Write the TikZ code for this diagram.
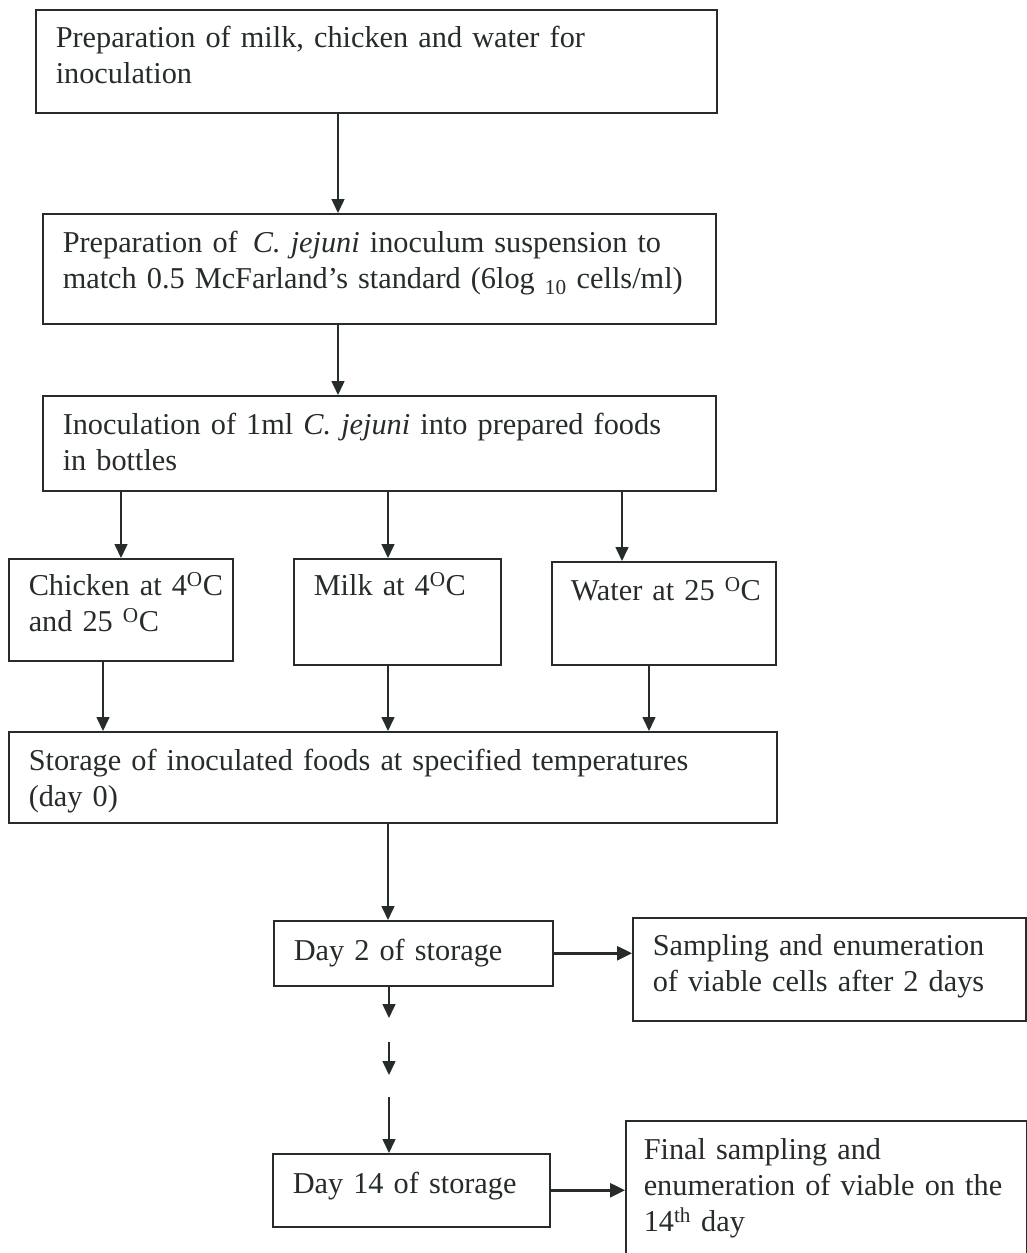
\documentclass[tikz,border=0pt]{standalone}
\usepackage{fontspec}
\setmainfont{Liberation Serif}
\usetikzlibrary{arrows.meta}
\definecolor{ink}{HTML}{262B2B}

\begin{document}
\begin{tikzpicture}[
    x=1pt, y=-1pt,
    box/.style={draw=ink, line width=1.5pt, anchor=north west, align=left, inner xsep=20pt, inner ysep=0pt,
        text height=39pt, text=ink, font=\fontsize{30.3}{36}\selectfont},
    arr/.style={draw=ink, line width=1.5pt, -{Triangle[length=14pt,width=13pt]}},
    side/.style={arr, line width=2.6pt, -{Triangle[length=15pt,width=14pt]}}
]

\useasboundingbox (0,0) rectangle (1027,1253);

% main column
\node[box, text width=641pt, text height=38pt, text depth=65pt] (prep) at (35,9)
    {Preparation of milk, chicken and water for\\inoculation};
\node[box, text width=633pt, text depth=71pt] (susp) at (42,213)
    {Preparation of \,\textit{C. jejuni} inoculum suspension to\\match~0.5~McFarland's~standard~(6log~\textsubscript{10}~cells/ml)};
\node[box, text width=633pt, text depth=56pt] (inoc) at (42,395)
    {Inoculation of 1ml \textit{C. jejuni} into prepared foods\\in bottles};

% foods
\node[box, text width=184pt, text height=37pt, text depth=65pt] (chick) at (8,558)
    {Chicken~at~4\textsuperscript{O}C\\and~25~\textsuperscript{O}C};
\node[box, text width=167pt, text height=37pt, text depth=69pt] (milk) at (293,558)
    {Milk~at~4\textsuperscript{O}C};
\node[box, inner xsep=19pt, text width=186pt, text depth=64pt] (water) at (551,561)
    {Water~at~25~\textsuperscript{O}C};

\node[box, text width=728pt, text depth=52pt] (store) at (8,731)
    {Storage of inoculated foods at specified temperatures\\(day 0)};

% sampling days
\node[box, text width=239pt, text height=40pt, text depth=25pt] (day2) at (273,920)
    {Day 2 of storage};
\node[box, text width=353pt, text height=38pt, text depth=65pt] (samp) at (632,917)
    {Sampling and enumeration\\of viable cells after 2 days};
\node[box, text width=237pt, text height=40pt, text depth=33pt] (day14) at (272,1153)
    {Day 14 of storage};
\node[box, inner xsep=18pt, text width=365pt, text depth=103pt] (final) at (625,1120)
    {Final sampling and\\enumeration~of~viable~on~the\\14\textsuperscript{th} day};

% arrow columns
\coordinate (m1) at (338,0);
\coordinate (m2) at (388,0);
\coordinate (m3) at (389,0);
\coordinate (c1) at (121,0);
\coordinate (c2) at (103,0);
\coordinate (w1) at (622,0);
\coordinate (w2) at (649,0);
\coordinate (g1) at (389,1018);
\coordinate (g2) at (389,1042);
\coordinate (g3) at (389,1075);
\coordinate (g4) at (389,1097);

\draw[arr] (prep.south -| m1) -- (susp.north -| m1);
\draw[arr] (susp.south -| m1) -- (inoc.north -| m1);
\draw[arr] (inoc.south -| c1) -- (chick.north -| c1);
\draw[arr] (inoc.south -| m2) -- (milk.north -| m2);
\draw[arr] (inoc.south -| w1) -- (water.north -| w1);
\draw[arr] (chick.south -| c2) -- (store.north -| c2);
\draw[arr] (milk.south -| m2) -- (store.north -| m2);
\draw[arr] (water.south -| w2) -- (store.north -| w2);
\draw[arr] (store.south -| m2) -- (day2.north -| m2);
\draw[arr] (day2.south -| m3) -- (g1);
\draw[arr] (g2) -- (g3);
\draw[arr] (g4) -- (day14.north -| m3);
\draw[side] (day2.east) -- (day2.east -| samp.west);
\draw[side] (day14.east) -- (day14.east -| final.west);

\end{tikzpicture}
\end{document}
